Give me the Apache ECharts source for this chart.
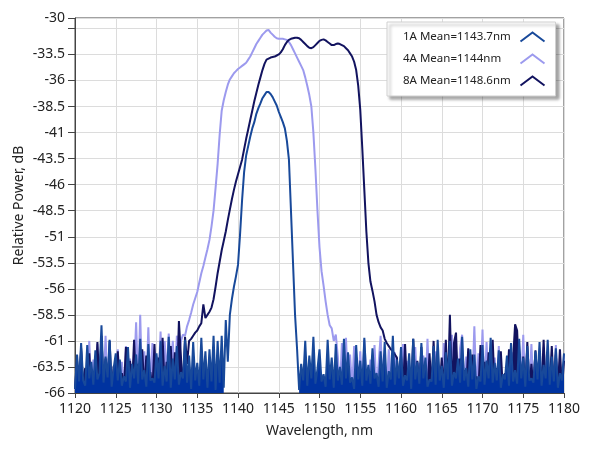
<!DOCTYPE html>
<html><head><meta charset="utf-8">
<script src="https://cdn.jsdelivr.net/npm/echarts@6/dist/echarts.min.js"></script>
<style>html,body{margin:0;padding:0;background:#fff}#c{width:589px;height:456px}</style>
</head><body><div id="c"></div>
<script>
// Sampling grid of the spectra (nm)
const wlStart = 1120, wlStep = 0.25;
const seriesNames = ['1A Mean=1143.7nm', '4A Mean=1144nm', '8A Mean=1148.6nm'];
const seriesColors = ['#18499a', '#9c9aee', '#12135f'];
const noiseFillColors = ['#0033a0', '#9c9aee', '#12135f'];

// Relative power, dB, one value per 0.25 nm from 1120 to 1180
const p1A = [
 -65.6,-62.3,-64.9,-61.2,-64.8,-65.3,-61.4,-64.6,-63.0,-65.2,
 -61.9,-64.7,-64.1,-59.5,-65.0,-62.5,-64.5,-60.9,-65.4,-63.6,
 -62.2,-64.8,-62.8,-65.3,-64.4,-64.9,-61.6,-65.5,-63.2,-64.6,
 -62.3,-65.1,-60.8,-64.7,-63.8,-65.4,-61.3,-64.8,-64.6,-65.0,
 -62.2,-64.6,-61.0,-65.3,-63.4,-64.9,-60.6,-65.5,-62.7,-64.7,
 -61.5,-65.2,-64.0,-64.6,-60.9,-65.0,-62.4,-65.6,-61.1,-64.8,
 -63.1,-65.3,-60.7,-64.7,-62.0,-65.5,-61.8,-64.9,-60.5,-65.7,
 -61.0,-65.0,-60.5,-65.5,-59.0,-63.0,-58.5,-57.0,-55.8,-54.8,
 -53.7,-50.8,-47.5,-44.8,-43.2,-42.3,-41.4,-40.6,-40.0,-39.2,
 -38.66,-38.2,-37.7,-37.4,-37.1,-37.1,-37.3,-37.6,-38.0,-38.4,
 -39.0,-39.5,-40.0,-40.6,-41.8,-43.6,-48.5,-53.5,-58.5,-61.8,
 -65.7,-63.2,-64.8,-61.0,-65.3,-62.4,-64.6,-60.6,-65.1,-63.7,
 -61.8,-64.9,-64.2,-65.4,-60.9,-64.7,-62.6,-65.5,-61.3,-64.8,
 -63.5,-65.2,-60.8,-64.6,-62.1,-65.0,-64.5,-65.6,-61.4,-64.7,
 -62.9,-65.3,-60.7,-64.8,-63.3,-65.1,-61.7,-64.6,-64.1,-65.4,
 -62.0,-64.9,-61.1,-65.5,-63.9,-64.7,-60.5,-65.2,-62.8,-64.6,
 -61.6,-65.3,-64.3,-64.8,-62.2,-65.6,-60.8,-64.7,-63.0,-65.1,
 -61.2,-64.6,-62.6,-65.4,-64.7,-64.9,-61.5,-65.2,-60.9,-64.8,
 -63.4,-65.5,-62.1,-64.7,-61.0,-65.3,-64.0,-64.6,-62.7,-65.0,
 -60.6,-64.8,-63.6,-65.4,-61.8,-64.7,-62.3,-65.6,-64.4,-64.9,
 -61.4,-65.2,-62.9,-64.6,-60.7,-65.0,-63.1,-64.8,-61.9,-65.5,
 -64.2,-64.7,-62.4,-65.3,-61.2,-64.9,-63.8,-65.1,-60.8,-64.6,
 -62.6,-65.4,-61.5,-64.8,-64.6,-65.0,-62.0,-64.7,-61.1,-65.3,
 -63.3,-64.6,-60.9,-65.2,-62.5,-64.9,-61.7,-65.5,-64.1,-64.8,
 -62.2
];
const p4A = [
 -65.7,-63.5,-65.6,-62.0,-65.7,-64.2,-65.5,-61.0,-65.7,-62.8,
 -65.6,-61.3,-65.7,-63.9,-65.4,-60.5,-65.7,-62.4,-65.6,-64.6,
 -65.7,-61.8,-65.5,-63.0,-65.7,-61.5,-65.6,-62.7,-65.7,-64.0,
 -59.2,-65.6,-58.5,-65.7,-62.0,-65.5,-59.7,-65.7,-61.2,-65.6,
 -62.5,-64.8,-60.1,-65.7,-61.0,-64.2,-60.3,-63.5,-61.0,-65.0,
 -60.5,-62.8,
 -61.0,-60.4,-60.5,-59.6,-59.0,-58.3,-57.5,-56.9,-56.3,-55.4,
 -54.5,-53.8,-53.0,-52.2,-51.3,-50.0,-48.5,-46.3,-44.0,-41.2,
 -38.9,-37.9,-37.1,-36.4,-35.9,-35.6,-35.3,-35.1,-34.9,-34.75,
 -34.6,-34.45,-34.3,-34.0,-33.7,-33.3,-32.9,-32.5,-32.2,-31.9,
 -31.6,-31.4,-31.2,-31.15,-31.4,-31.6,-31.8,-31.95,-32.0,-32.0,
 -32.0,-32.05,-32.1,-32.3,-32.6,-33.0,-33.4,-33.8,-34.2,-34.6,
 -35.0,-35.7,-36.5,-37.4,-38.5,-41.0,-44.5,-48.5,-52.0,-54.3,
 -55.7,-57.2,-58.5,-59.5,
 -59.8,-61.0,-60.4,-62.5,-65.7,-61.2,-64.0,-60.7,-65.6,-62.3,
 -65.7,-61.5,-63.8,-65.6,-62.0,-65.7,-60.9,-64.5,-65.7,-62.8,
 -65.5,-61.4,-65.7,-63.2,-60.5,-65.6,-62.6,-65.7,-61.8,-64.9,
 -65.7,-62.1,-65.6,-63.7,-65.7,-61.3,-65.4,-62.9,-65.7,-64.3,
 -65.6,-61.6,-65.7,-63.1,-65.5,-62.4,-65.7,-60.8,-65.6,-63.5,
 -65.7,-62.0,-65.6,-64.1,-65.7,-61.2,-65.5,-62.7,-65.7,-60.4,
 -65.6,-63.0,-65.7,-61.7,-60.4,-65.6,-62.5,-65.7,-64.0,-65.5,
 -59.6,-65.7,-62.2,-65.6,-59.9,-65.7,-61.1,-65.4,-63.3,-65.7,
 -62.6,-65.6,-61.5,-65.7,-64.4,-65.7,-65.7,-63.6,-65.6,-62.1,
 -65.7,-65.8,-61.9,-65.6,-60.4,-65.7,-62.8,-65.5,-61.3,-65.7,
 -63.9,-65.6,-62.0,-65.7,-61.6,-65.4,-64.2,-65.7,-62.5,-65.6,
 -61.4,-65.7,-63.0,-65.6,-62.3
];
const p8A = [
 -65.6,-62.9,-65.7,-61.7,-65.5,-63.6,-65.7,-62.2,-65.6,-64.3,
 -65.7,-61.1,-65.4,-60.5,-65.7,-62.7,-65.6,-61.0,-65.7,-63.4,
 -65.5,-62.0,-65.7,-64.1,-65.6,-61.6,-65.7,-62.9,-65.4,-60.9,
 -65.7,-63.2,-65.6,-61.8,-65.7,-62.4,-65.5,-64.0,-65.7,-61.3,
 -65.6,-62.6,-65.7,-60.7,-65.4,-63.0,-65.7,-61.5,-65.6,-62.1,
 -65.7,-59.1,-62.5,-65.6,-60.6,-63.2,-61.0,-60.8,
 -60.5,-60.2,-60.0,-59.6,-59.3,-57.5,-58.8,-58.5,-58.2,-57.8,
 -57.0,-55.8,-54.5,-53.4,-52.3,-51.4,-50.5,-49.4,-48.4,-47.4,
 -46.5,-45.7,-45.0,-44.3,-43.6,-42.6,-41.6,-40.7,-39.8,-38.9,
 -38.0,-37.2,-36.4,-35.7,-35.0,-34.4,-34.0,-33.9,-33.8,-33.75,
 -33.7,-33.6,-33.5,-33.3,-33.0,-32.6,-32.3,-32.1,-32.0,-31.95,
 -31.9,-31.9,-31.95,-32.1,-32.3,-32.5,-32.7,-32.85,-32.9,-32.8,
 -32.6,-32.4,-32.2,-32.1,-32.05,-32.15,-32.3,-32.45,-32.6,-32.6,
 -32.5,-32.45,-32.5,-32.6,-32.7,-32.9,-33.1,-33.4,-33.7,-34.2,
 -35.0,-36.5,-38.8,-42.5,-46.5,-50.5,-53.5,-55.3,-56.2,-57.2,
 -58.5,-59.2,-59.7,-60.0,-60.8,-61.2,-61.5,-61.8,-62.0,-62.3,
 -62.6,
 -65.6,-62.4,-65.7,-61.3,-65.5,-63.5,-65.7,-60.8,-65.6,-62.9,
 -65.7,-61.6,-65.4,-64.0,-65.7,-62.2,-65.6,-61.0,-65.7,-63.3,
 -65.5,-62.6,-65.7,-60.9,-65.6,-58.5,-65.7,-61.2,-60.2,-65.6,
 -62.7,-65.7,-63.8,-65.5,-61.7,-65.7,-62.3,-65.6,-64.4,-65.7,
 -61.4,-65.6,-63.0,-65.7,-62.1,-65.4,-60.9,-65.7,-63.6,-65.6,
 -62.0,-65.7,-64.1,-65.6,-61.8,-65.7,-62.8,-59.4,-60.0,-64.8,
 -65.7,-62.5,-65.6,-61.1,-65.7,-63.2,-65.5,-61.9,-65.7,-62.6,
 -65.6,-60.9,-65.7,-63.4,-65.4,-61.5,-65.7,-62.3,-65.6,-61.8,
 -65.7,-62.9
];
const seriesValues = [p1A, p4A, p8A];
// Wavelength ranges (nm) where each trace sits on the noise floor
const noiseRanges = [
  [[1120, 1138.25], [1147.5, 1180]],
  [[1120, 1132.75], [1152.5, 1180]],
  [[1120, 1133.25], [1159.75, 1180]]
];

// Axis ranges and ticks
const xMin = 1120, xMax = 1180, xStep = 5;
const yMin = -66, yMax = -30, yStep = 2.5;
const yHiddenLabels = [-31];

// The value axis is drawn relative to yMin so that ticks start at yMin
const toAxis = v => v - yMin;
const fromAxis = v => Math.round((v + yMin) * 10) / 10;

const font = "'Noto Sans', 'DejaVu Sans', sans-serif";
const zLine = [6, 2, 4];

const inNoise = (i, x) => noiseRanges[i].some(r => x >= r[0] - 1e-9 && x <= r[1] + 1e-9);

const lineSeries = seriesNames.map((n, i) => ({
  name: n, type: 'line', showSymbol: false, symbol: 'none', z: zLine[i],
  lineStyle: {color: seriesColors[i], width: 2},
  itemStyle: {color: seriesColors[i]},
  data: seriesValues[i].map((v, k) => [wlStart + k * wlStep, toAxis(v)])
}));
const fillSeries = seriesNames.map((n, i) => ({
  name: n + ' floor', type: 'line', showSymbol: false, symbol: 'none', z: zLine[i] - 1,
  connectNulls: false,
  lineStyle: {width: 0, color: noiseFillColors[i]},
  areaStyle: {color: noiseFillColors[i], opacity: 1},
  itemStyle: {color: noiseFillColors[i]},
  data: seriesValues[i].map((v, k) => {
    const x = wlStart + k * wlStep;
    return [x, inNoise(i, x) ? toAxis(v) : '-'];
  })
}));

const chart = echarts.init(document.getElementById('c'), null, {renderer: 'canvas'});
chart.setOption({
  animation: false,
  backgroundColor: '#fff',
  grid: {left: 75, right: 25, top: 18, bottom: 63, show: true, borderColor: '#444', borderWidth: 1, backgroundColor: 'transparent'},
  legend: {
    orient: 'vertical', left: 387, top: 22,
    padding: [8, 10, 8, 16], itemGap: 8, itemWidth: 25, itemHeight: 9, align: 'right',
    backgroundColor: '#fff', borderColor: '#d0d0d0', borderWidth: 1,
    shadowColor: 'rgba(0,0,0,0.35)', shadowBlur: 3, shadowOffsetX: 3, shadowOffsetY: 3,
    selectedMode: false,
    formatter: name => '{t|' + name + '}',
    textStyle: {fontFamily: font, fontSize: 11.5, color: '#222', lineHeight: 14,
      rich: {t: {width: 112, align: 'left', fontFamily: font, fontSize: 11.5, color: '#222', lineHeight: 14}}},
    data: seriesNames.map((n, i) => ({
      name: n, icon: 'path://M0,9L12,0L24,9',
      itemStyle: {color: 'rgba(0,0,0,0)', borderColor: seriesColors[i], borderWidth: 2}
    }))
  },
  xAxis: {
    type: 'value', min: xMin, max: xMax, interval: xStep,
    name: 'Wavelength, nm', nameLocation: 'middle', nameGap: 31, nameMoveOverlap: false,
    nameTextStyle: {fontFamily: font, fontSize: 14, color: '#222'},
    axisLine: {show: true, onZero: false, lineStyle: {color: '#444'}},
    axisTick: {show: true, length: 5, lineStyle: {color: '#444'}},
    axisLabel: {fontFamily: font, fontSize: 14, color: '#222', margin: 9, formatter: v => String(v)},
    splitLine: {show: true, lineStyle: {color: '#dcdcdc', width: 1}}
  },
  yAxis: {
    type: 'value', min: toAxis(yMin), max: toAxis(yMax), interval: yStep,
    name: 'Relative Power, dB', nameLocation: 'middle', nameGap: 49, nameMoveOverlap: false,
    nameTextStyle: {fontFamily: font, fontSize: 14, color: '#222'},
    axisLine: {show: true, onZero: false, lineStyle: {color: '#444'}},
    axisTick: {show: true, length: 7, lineStyle: {color: '#444'}},
    axisLabel: {fontFamily: font, fontSize: 14, color: '#222', margin: 10,
      formatter: v => { const d = fromAxis(v); return yHiddenLabels.includes(d) ? '' : String(d); }},
    splitLine: {show: true, lineStyle: {color: '#dcdcdc', width: 1}}
  },
  series: lineSeries.concat(fillSeries)
});
</script></body></html>
